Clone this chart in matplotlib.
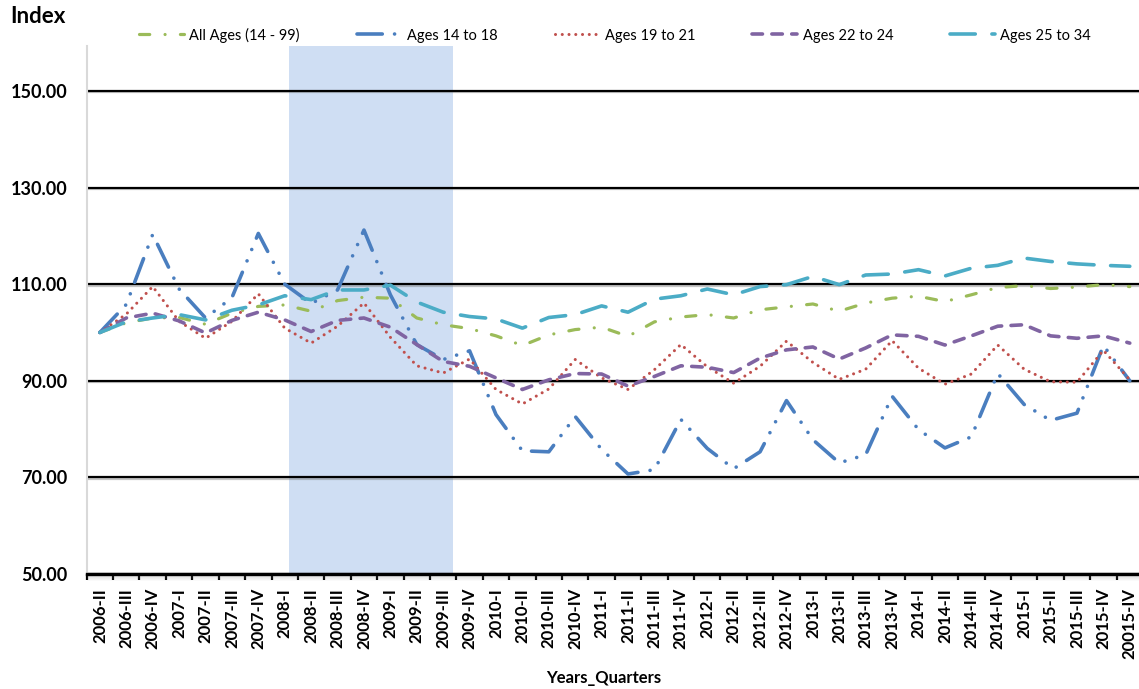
import matplotlib

matplotlib.use("Agg")
import matplotlib.patheffects as pe
import matplotlib.pyplot as plt
import numpy as np
from matplotlib.patches import Rectangle

plt.rcParams["font.family"] = ["Lato", "DejaVu Sans"]

QUARTERS = [
    "2006-II", "2006-III", "2006-IV",
    "2007-I", "2007-II", "2007-III", "2007-IV",
    "2008-I", "2008-II", "2008-III", "2008-IV",
    "2009-I", "2009-II", "2009-III", "2009-IV",
    "2010-I", "2010-II", "2010-III", "2010-IV",
    "2011-I", "2011-II", "2011-III", "2011-IV",
    "2012-I", "2012-II", "2012-III", "2012-IV",
    "2013-I", "2013-II", "2013-III", "2013-IV",
    "2014-I", "2014-II", "2014-III", "2014-IV",
    "2015-I", "2015-II", "2015-III", "2015-IV", "20015-IV",
]

ALL_AGES = [
    100.0, 102.0, 103.0, 103.1, 101.7, 104.0, 105.4, 105.7, 104.4, 106.6,
    107.3, 107.1, 103.0, 101.6, 100.8, 99.3, 97.3, 99.5, 100.6, 101.1,
    99.2, 102.2, 103.2, 103.7, 103.0, 104.7, 105.3, 105.9, 104.4, 106.1,
    107.1, 107.5, 106.4, 107.8, 109.3, 109.7, 109.1, 109.4, 109.9, 109.5,
]
AGES_14_18 = [
    100.0, 105.8, 120.3, 109.0, 103.0, 107.2, 120.5, 110.0, 106.0, 108.8,
    121.2, 107.8, 97.5, 94.4, 96.2, 83.0, 75.5, 75.3, 82.6, 75.8,
    70.7, 71.6, 82.0, 76.0, 71.8, 75.3, 85.9, 77.8, 73.0, 74.7,
    86.8, 79.9, 76.1, 78.4, 91.5, 85.1, 81.8, 83.3, 97.3, 90.0,
]
AGES_19_21 = [
    100.0, 103.8, 109.5, 102.3, 98.8, 102.3, 108.0, 100.9, 97.8, 101.3,
    106.1, 99.0, 93.1, 91.6, 94.5, 88.2, 85.2, 88.3, 94.4, 90.6,
    88.2, 92.3, 97.5, 92.9, 89.5, 93.0, 98.2, 93.8, 90.3, 92.4,
    98.3, 92.6, 89.3, 91.4, 97.4, 92.4, 89.8, 89.7, 96.3, 90.2,
]
AGES_22_24 = [
    100.0, 103.0, 104.0, 102.4, 99.9, 102.5, 104.2, 102.6, 100.2, 102.5,
    103.0, 101.1, 97.5, 94.0, 93.0, 90.6, 88.2, 90.2, 91.5, 91.4,
    88.9, 90.9, 93.1, 92.8, 91.7, 94.7, 96.4, 97.0, 94.5, 96.8,
    99.5, 99.2, 97.4, 99.3, 101.3, 101.6, 99.3, 98.8, 99.3, 97.8,
]
AGES_25_34 = [
    100.0, 102.2, 103.0, 103.7, 102.6, 104.6, 105.7, 107.6, 106.8, 108.8,
    108.8, 109.8, 106.3, 104.2, 103.3, 102.8, 100.9, 103.1, 103.7, 105.5,
    104.2, 106.9, 107.6, 109.0, 107.8, 109.5, 109.9, 111.6, 109.9, 111.9,
    112.1, 113.0, 111.7, 113.3, 113.9, 115.4, 114.7, 114.2, 113.9, 113.7,
]

# recession band, in category units (2008-I .. 2009-III)
RECESSION = (7.17, 13.36)
Y_TICKS = [50, 70, 90, 110, 130, 150]

SERIES = [
    ("All Ages (14 - 99)", ALL_AGES, "#9BBB59", 2.3, [3.2, 4.8, 0.01, 4.8]),
    ("Ages 14 to 18", AGES_14_18, "#4A7EBF", 2.6, [7.0, 3.4, 0.01, 3.4, 0.01, 3.4]),
    ("Ages 19 to 21", AGES_19_21, "#C0504D", 2.2, [0.01, 2.2]),
    ("Ages 22 to 24", AGES_22_24, "#8064A2", 2.6, [2.9, 2.6]),
    ("Ages 25 to 34", AGES_25_34, "#4BACC6", 2.6, [7.0, 4.6]),
]


def main() -> None:
    fig = plt.figure(figsize=(11.39, 6.89), dpi=100)
    ax = fig.add_axes([0.0761, 0.1669, 0.9274, 0.7663])
    x = np.arange(len(QUARTERS))

    ax.axvspan(*RECESSION, color="#CFDEF3", zorder=0, lw=0)

    for label, values, color, lw, dashes in SERIES:
        ax.plot(
            x, values, color=color, lw=lw, dashes=dashes,
            dash_capstyle="round", solid_capstyle="round", label=label, zorder=3,
        )

    ax.set_xlim(-0.5, len(QUARTERS) - 0.5)
    ax.set_ylim(50, 159.3)
    ax.set_yticks(Y_TICKS)
    ax.set_yticklabels([f"{v:.2f}" for v in Y_TICKS], fontsize=13, fontweight="bold")
    ax.tick_params(axis="y", length=0, pad=14)

    ax.set_xticks(x)
    ax.set_xticklabels(QUARTERS, rotation=90, fontsize=12, fontweight="bold")
    ax.set_xticks(np.arange(len(QUARTERS) + 1) - 0.5, minor=True)
    ax.tick_params(axis="x", which="major", length=0, pad=10)
    ax.tick_params(axis="x", which="minor", length=4, width=1.6, direction="out", color="black")

    ax.set_axisbelow(True)
    ax.yaxis.grid(True, color="black", lw=1.6)
    shadow = [pe.SimpleLineShadow(offset=(0.6, -1.0), shadow_color="#7F7F7F", alpha=0.45), pe.Normal()]
    for gl in ax.get_ygridlines():
        gl.set_path_effects(shadow)

    for side in ("top", "right"):
        ax.spines[side].set_visible(False)
    ax.spines["left"].set_color("#D9D9D9")
    ax.spines["left"].set_linewidth(1.5)
    ax.spines["bottom"].set_color("black")
    ax.spines["bottom"].set_linewidth(2.4)
    ax.spines["bottom"].set_zorder(4)

    # soft gray shade under the category axis
    px = 1 / (fig.get_figheight() * fig.dpi * 0.7663)
    for k in range(7):
        ax.add_patch(Rectangle(
            (0, -(k + 1) * px), 1, px, transform=ax.transAxes, clip_on=False,
            color="#808080", alpha=0.28 * (1 - k / 7), lw=0, zorder=1,
        ))

    fig.text(10 / 1139, 1 - 6 / 689, "Index", fontsize=16, fontweight="bold", va="top", ha="left")
    fig.text(604 / 1139, 1 - 678 / 689, "Years_Quarters", fontsize=12, fontweight="bold",
             va="center", ha="center")

    fig.legend(
        loc="center", bbox_to_anchor=(0.54, 1 - 35 / 689), ncol=5, frameon=False,
        fontsize=10.5, handlelength=3.1, handletextpad=0.35, columnspacing=3.9,
    )

    fig.savefig("out.png", dpi=100)
    plt.close(fig)


if __name__ == "__main__":
    main()
